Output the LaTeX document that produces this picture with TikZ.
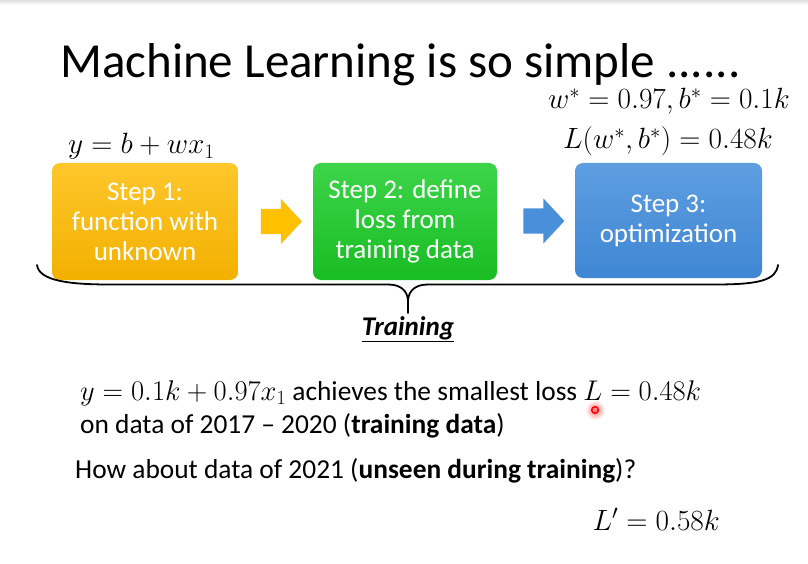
\RequirePackage{fix-cm}
\documentclass[tikz,border=0pt]{standalone}
\usepackage[no-math]{fontspec}
\setmainfont{Carlito}
\usetikzlibrary{shapes.arrows,calc}

\definecolor{orTop}{HTML}{FFC72C}
\definecolor{orBot}{HTML}{F2B000}
\definecolor{grTop}{HTML}{3DD44A}
\definecolor{grBot}{HTML}{18BD22}
\definecolor{blTop}{HTML}{5E9EE0}
\definecolor{blBot}{HTML}{3F86D3}
\definecolor{arrOr}{HTML}{FFC000}
\definecolor{arrBl}{HTML}{4A8FDA}

\newcommand{\bigmath}[1]{{\fontsize{29.3}{32}\selectfont$#1$}}
\newcommand{\inmath}[1]{{\fontsize{28.5}{32}\selectfont$#1$}}

\tikzset{
  stepbox/.style={rounded corners=8pt, minimum width=186pt, minimum height=117pt,
    align=center, text=white, font=\fontsize{27}{30}\selectfont, inner sep=0pt},
  blockarrow/.style={single arrow, minimum height=41pt, inner xsep=0pt, inner ysep=12.5pt,
    single arrow head extend=10pt, single arrow tip angle=94, draw=none},
  body/.style={font=\fontsize{27.4}{32}\selectfont, anchor=base west, inner sep=0pt},
  formula/.style={inner sep=0pt},
  bracepath/.style={line width=1.8pt, line cap=round, line join=round},
}

\begin{document}
\begin{tikzpicture}[x=1pt,y=-1pt]
  \useasboundingbox (0,0) rectangle (808,564);
  \fill[white] (0,0) rectangle (808,564);
  \shade[top color=black!12, bottom color=white] (0,0) rectangle (808,5);

  % laser pointer halo (under the text)
  \shade[inner color=red!55, outer color=white] (595,410) circle (10);

  % title
  \node[anchor=base west, inner sep=0pt, font=\fontsize{49}{55}\selectfont] (title) at (60,78)
    {Machine Learning is so simple ......};

  % formulas above the steps
  \node[formula, anchor=base east] (wb) at (790,109) {\bigmath{w^*=0.97, b^*=0.1k}};
  \node[formula, anchor=base east] (lw) at (773,149) {\bigmath{L(w^*,b^*)=0.48k}};
  \node[formula, anchor=base west] (fx) at (68,154) {\bigmath{y=b+wx_1}};

  % the three steps
  \node[stepbox, top color=orTop, bottom color=orBot] (s1) at (145,221.5)
    {Step 1:\\function with\\unknown};
  \node[stepbox, minimum width=184pt, top color=grTop, bottom color=grBot] (s2) at (405,221.5)
    {Step 2: define\\loss from\\training data};
  \node[stepbox, minimum width=187pt, minimum height=115pt, top color=blTop, bottom color=blBot] (s3) at (668.5,220.5)
    {Step 3:\\optimization};

  % block arrows between the steps
  \node[blockarrow, fill=arrOr] (a12) at ($(s1.east)!0.5!(s2.west)$) {};
  \node[blockarrow, fill=arrBl] (a23) at ($(s2.east)!0.5!(s3.west)+(2,0)$) {};

  % curly brace under the steps
  \coordinate (bl) at (37,265);
  \coordinate (bt) at (408,313);
  \coordinate (br) at (778,265);
  \draw[bracepath] (bl) .. controls (39,281) and (70,284.5) .. (110,284.5)
    -- (388,284.5) .. controls (400,284.5) and (407,290) .. (408,300) -- (bt);
  \draw[bracepath] (408,300) .. controls (409,290) and (416,284.5) .. (428,284.5)
    -- (715,284.5) .. controls (760,284.5) and (776,280) .. (br);

  \node[anchor=base, inner sep=0pt, font=\fontsize{27}{30}\selectfont\bfseries\itshape] (train) at (408,335)
    {\underline{Training}};

  % results
  \node[body] (r1) at (80,400) {\inmath{y=0.1k+0.97x_1} achieves the smallest loss \inmath{L=0.48k}};
  \node[body] (r2) at (80,433) {on data of 2017 – 2020 (\textbf{training data})};
  \node[body] (q) at (75,478) {How about data of 2021 (\textbf{unseen during training})?};
  \node[formula, anchor=base east] (lp) at (720,530) {\bigmath{L'=0.58k}};

  % laser pointer dot
  \draw[red, line width=1.5pt] (595,410) circle (3.3);
\end{tikzpicture}
\end{document}
